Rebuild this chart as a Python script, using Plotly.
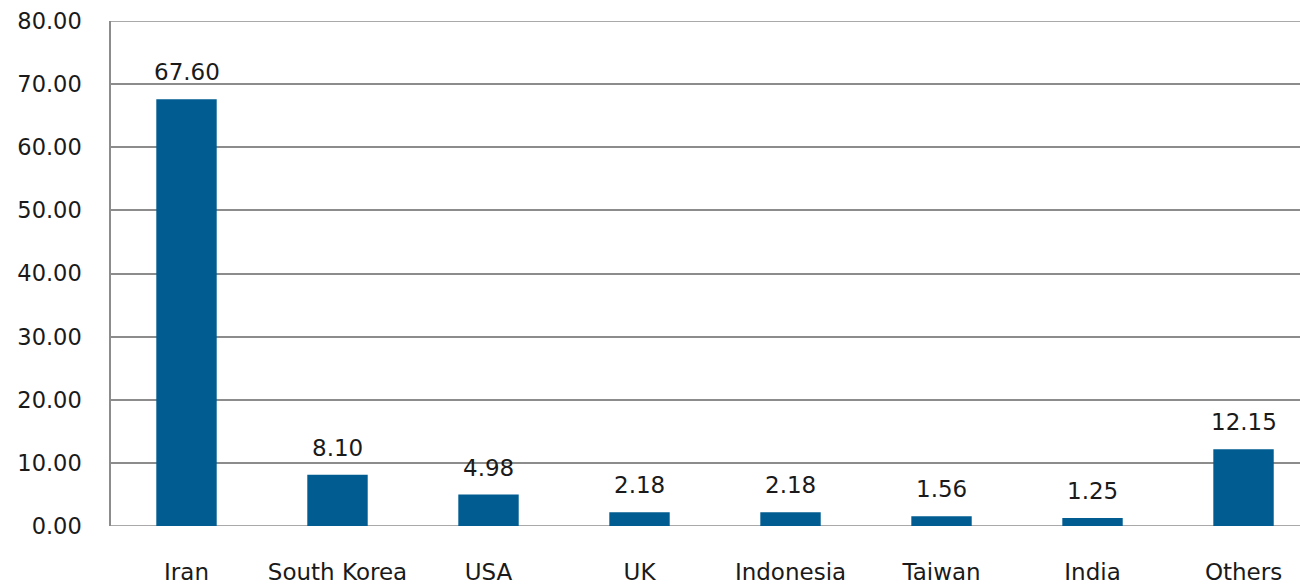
import plotly.graph_objects as go

categories = ["Iran", "South Korea", "USA", "UK", "Indonesia", "Taiwan", "India", "Others"]
values = [67.60, 8.10, 4.98, 2.18, 2.18, 1.56, 1.25, 12.15]
y_ticks = [0, 10, 20, 30, 40, 50, 60, 70, 80]
y_tick_labels = ["0.00", "10.00", "20.00", "30.00", "40.00", "50.00", "60.00", "70.00", "80.00"]

FONT = "DejaVu Sans"
BAR = "#015c91"
GRID = "#8c8c8c"
TXT = "#1a1a1a"

fig = go.Figure()
fig.add_trace(go.Bar(
    x=list(range(len(categories))), y=values, width=0.4,
    marker=dict(color=BAR, line=dict(width=0)),
    hoverinfo="skip",
))

for i, v in enumerate(values):
    fig.add_annotation(
        x=i, y=v, xref="x", yref="y", text=f"{v:.2f}", showarrow=False,
        yanchor="bottom", yshift=12, font=dict(family=FONT, size=23, color=TXT),
    )

# edge gridlines (plotly drops gridlines lying exactly on the range ends)
for yv in (y_ticks[0], y_ticks[-1]):
    fig.add_shape(type="line", xref="paper", yref="y", x0=0, x1=1, y0=yv, y1=yv,
                  line=dict(color=GRID, width=1.5), layer="below")

fig.update_layout(
    width=1300, height=584,
    margin=dict(l=111, r=0, t=21, b=58, pad=0),
    paper_bgcolor="white", plot_bgcolor="white",
    showlegend=False,
    font=dict(family=FONT, size=23, color=TXT),
)
fig.update_xaxes(
    range=[-0.5, 7.374],
    tickmode="array", tickvals=list(range(len(categories))), ticktext=categories,
    showgrid=False, zeroline=False, showline=False, ticks="",
    tickfont=dict(family=FONT, size=23, color=TXT),
    ticklabelstandoff=30,
)
fig.update_yaxes(
    range=[y_ticks[0], y_ticks[-1]],
    tickmode="array", tickvals=y_ticks, ticktext=y_tick_labels,
    showgrid=True, gridcolor=GRID, gridwidth=1.5,
    zeroline=False, showline=True, linecolor=GRID, linewidth=1.5,
    ticks="", tickfont=dict(family=FONT, size=22.5, color=TXT),
    ticklabelstandoff=23,
)

fig.write_html("out.html", config={"displayModeBar": False},
               post_script="document.body.style.margin='0px';")
